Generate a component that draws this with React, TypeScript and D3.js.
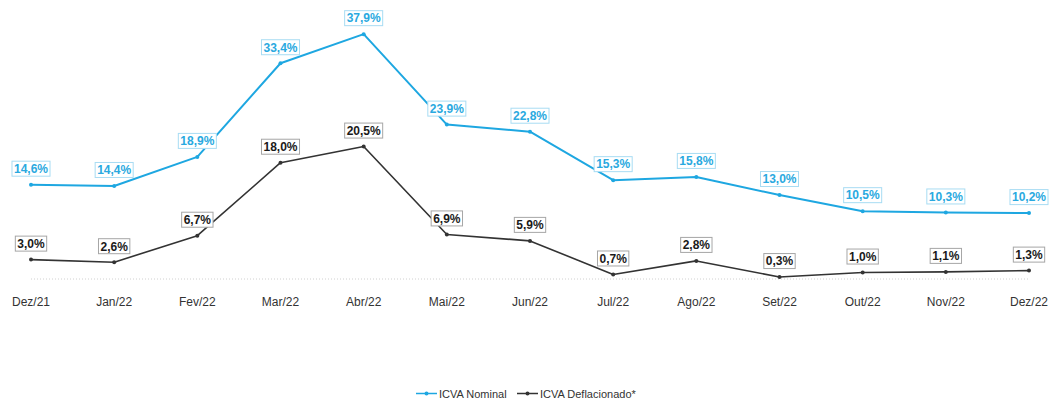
import React, { useEffect, useRef } from "react";
import * as d3 from "d3";

const categories = ["Dez/21","Jan/22","Fev/22","Mar/22","Abr/22","Mai/22","Jun/22","Jul/22","Ago/22","Set/22","Out/22","Nov/22","Dez/22"];
const nominal = [14.6,14.4,18.9,33.4,37.9,23.9,22.8,15.3,15.8,13.0,10.5,10.3,10.2];
const deflacionado = [3.0,2.6,6.7,18.0,20.5,6.9,5.9,0.7,2.8,0.3,1.0,1.1,1.3];
const seriesNames = ["ICVA Nominal","ICVA Deflacionado*"];

const W = 1049, H = 400;
const BLUE = "#1ea7e1";
const BLUE_TEXT = "#2aa9e0";
const BLUE_BORDER = "#a8dcf3";
const DARK = "#333333";
const DARK_TEXT = "#1a1a1a";
const DARK_BORDER = "#a6a6a6";

export default function App() {
  const ref = useRef<SVGSVGElement>(null);
  useEffect(() => {
    const svg = d3.select(ref.current);
    svg.selectAll("*").remove();
    const x = d3.scalePoint<string>().domain(categories).range([31, 1029]);
    const y = d3.scaleLinear().domain([0, 40]).range([279, 20.6]);
    const font = "'Liberation Sans', Arial, sans-serif";

    // baseline dotted
    svg.append("line")
      .attr("x1", x(categories[0])!).attr("x2", x(categories[categories.length - 1])!)
      .attr("y1", y(0)).attr("y2", y(0))
      .attr("stroke", "#d0d0d0").attr("stroke-width", 1).attr("stroke-dasharray", "1,2");

    // x axis labels
    svg.append("g").selectAll("text").data(categories).join("text")
      .attr("x", d => x(d)!).attr("y", 306)
      .attr("text-anchor", "middle").attr("font-family", font).attr("font-size", 12)
      .attr("fill", "#333").text(d => d);

    const series = [
      { values: nominal, color: BLUE, text: BLUE_TEXT, border: BLUE_BORDER, width: 2 },
      { values: deflacionado, color: DARK, text: DARK_TEXT, border: DARK_BORDER, width: 1.6 },
    ];
    const line = d3.line<number>().x((_, i) => x(categories[i])!).y(d => y(d));
    series.forEach(s => {
      svg.append("path").datum(s.values).attr("d", line).attr("fill", "none")
        .attr("stroke", s.color).attr("stroke-width", s.width).attr("stroke-linejoin", "round");
      svg.append("g").selectAll("circle").data(s.values).join("circle")
        .attr("cx", (_, i) => x(categories[i])!).attr("cy", d => y(d)).attr("r", 2)
        .attr("fill", s.color);
      const lg = svg.append("g");
      s.values.forEach((v, i) => {
        const cx = x(categories[i])!;
        const cy = y(v) - 16;
        const g = lg.append("g");
        const rect = g.append("rect");
        const t = g.append("text").attr("x", cx).attr("y", cy + 4.3)
          .attr("text-anchor", "middle").attr("font-family", font).attr("font-size", 12)
          .attr("font-weight", "bold").attr("fill", s.text)
          .text(v.toFixed(1).replace(".", ",") + "%");
        const w = (t.node() as SVGTextElement).getComputedTextLength();
        rect.attr("x", cx - w / 2 - 2).attr("y", cy - 7.5).attr("width", w + 4).attr("height", 15)
          .attr("fill", "white").attr("stroke", s.border).attr("stroke-width", 1);
      });
    });

    // legend
    const leg = svg.append("g");
    const items = [
      { name: seriesNames[0], color: BLUE, x0: 416 },
      { name: seriesNames[1], color: DARK, x0: 517 },
    ];
    items.forEach(it => {
      leg.append("line").attr("x1", it.x0).attr("x2", it.x0 + 21).attr("y1", 393.5).attr("y2", 393.5)
        .attr("stroke", it.color).attr("stroke-width", 1.5);
      leg.append("circle").attr("cx", it.x0 + 10.5).attr("cy", 393.5).attr("r", 2).attr("fill", it.color);
      leg.append("text").attr("x", it.x0 + 23).attr("y", 397.5).attr("font-family", font)
        .attr("font-size", 11).attr("fill", "#333").text(it.name);
    });
  }, []);
  return (
    <svg ref={ref} width={W} height={H}
      style={{ position: "absolute", left: 0, top: 0, background: "white", display: "block" }} />
  );
}
